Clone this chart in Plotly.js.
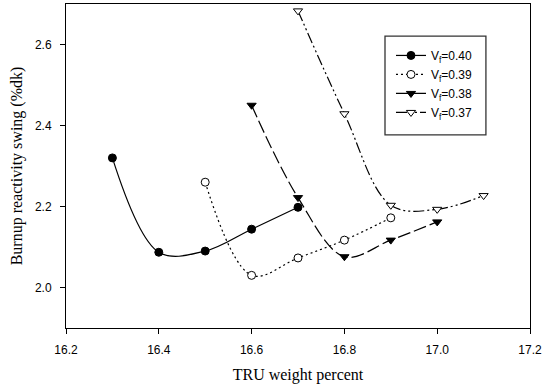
<!DOCTYPE html>
<html>
<head>
<meta charset="utf-8">
<script src="https://cdn.plot.ly/plotly-3.0.1.min.js"></script>
<style>html,body{margin:0;padding:0;background:#fff;}#chart{width:544px;height:387px;}</style>
</head>
<body>
<div id="chart"></div>
<script>
// TRU weight percent vs burnup reactivity swing for four fuel volume fractions
const x40 = [16.3, 16.4, 16.5, 16.6, 16.7];
const y40 = [2.32, 2.087, 2.09, 2.144, 2.198];
const x39 = [16.5, 16.6, 16.7, 16.8, 16.9];
const y39 = [2.26, 2.03, 2.073, 2.117, 2.172];
const x38 = [16.6, 16.7, 16.8, 16.9, 17.0];
const y38 = [2.45, 2.222, 2.076, 2.117, 2.162];
const x37 = [16.7, 16.8, 16.9, 17.0, 17.1];
const y37 = [2.683, 2.429, 2.203, 2.193, 2.227];
const seriesNames = ['V<sub>f</sub>=0.40', 'V<sub>f</sub>=0.39', 'V<sub>f</sub>=0.38', 'V<sub>f</sub>=0.37'];
const xTicks = [16.2, 16.4, 16.6, 16.8, 17.0, 17.2];
const xTickText = ['16.2', '16.4', '16.6', '16.8', '17.0', '17.2'];
const yTicks = [2.0, 2.2, 2.4, 2.6];
const yTickText = ['2.0', '2.2', '2.4', '2.6'];

function series(x, y, name, dash, symbol, fill) {
  return {
    x: x, y: y, name: name, type: 'scatter', mode: 'lines+markers',
    line: {color: '#000', width: 1.2, dash: dash, shape: 'spline', smoothing: 1},
    marker: {symbol: symbol, size: 8, color: fill, line: {color: '#000', width: 1}}
  };
}

const data = [
  series(x40, y40, seriesNames[0], 'solid', 'circle', '#000'),
  series(x39, y39, seriesNames[1], '2px,3px', 'circle', '#fff'),
  series(x38, y38, seriesNames[2], '13px,4px', 'triangle-down', '#000'),
  series(x37, y37, seriesNames[3], '11px,3px,2px,3px,2px,3px', 'triangle-down', '#fff')
];

const tickFont = {family: 'Liberation Sans, Arial, sans-serif', size: 12, color: '#000'};
const titleFont = {family: 'Liberation Serif, Times New Roman, serif', size: 16, color: '#000'};

const axisCommon = {
  showgrid: false, zeroline: false, showline: true, linecolor: '#000', linewidth: 1,
  mirror: true, ticks: 'outside', ticklen: 5, tickwidth: 1, tickcolor: '#000',
  tickfont: tickFont, ticklabelstandoff: 6
};

const layout = {
  width: 544, height: 387,
  margin: {l: 66, r: 14, t: 4, b: 59},
  paper_bgcolor: '#fff', plot_bgcolor: '#fff',
  showlegend: true,
  legend: {
    x: 0.7004, y: 0.886, xanchor: 'left', yanchor: 'top',
    borderwidth: 0, bgcolor: 'rgba(0,0,0,0)',
    font: {family: 'Liberation Sans, Arial, sans-serif', size: 12, color: '#000'},
    tracegroupgap: 0
  },
  // frame around the legend entries
  shapes: [{
    type: 'rect', xref: 'paper', yref: 'paper',
    x0: 0.6875, x1: 0.905, y0: 0.596, y1: 0.901,
    line: {color: '#333', width: 1.3}, fillcolor: '#fff', layer: 'below'
  }],
  xaxis: Object.assign({}, axisCommon, {
    range: [16.2, 17.2], tickvals: xTicks, ticktext: xTickText,
    title: {text: 'TRU weight percent', font: titleFont, standoff: 12}
  }),
  yaxis: Object.assign({}, axisCommon, {
    range: [1.9, 2.7], tickvals: yTicks, ticktext: yTickText,
    title: {text: 'Burnup reactivity swing (%dk)', font: titleFont, standoff: 8}
  })
};

Plotly.newPlot('chart', data, layout, {displayModeBar: false, staticPlot: true});
</script>
</body>
</html>
